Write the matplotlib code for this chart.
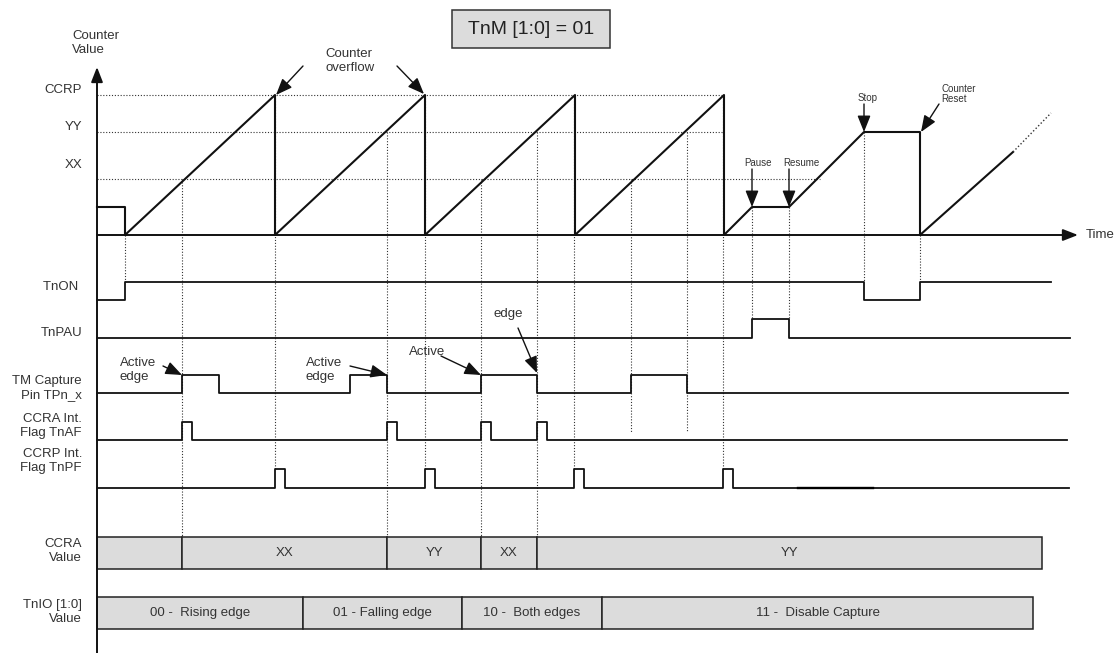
import numpy as np
import matplotlib.pyplot as plt
from matplotlib.patches import Rectangle

plt.rcParams['font.family'] = ['Liberation Sans', 'DejaVu Sans']

# ---- timing data (time units share the x axis) ----
t_start = 97
t_on = 125
t_overflow = [275, 425, 575, 724]
t_xx = [182, 481, 631]          # counter passes XX
t_yy = [387, 537, 687]          # counter passes YY
t_pause, t_resume = 752, 789
t_stop, t_reset = 864, 920

# counter levels (counts)
ccrp_val = 140
yy_val = 103
xx_val = 56
init_val = 28

cnt_t = [97, 125, 125, 275, 275, 425, 425, 575, 575, 724, 724, 752, 789, 864, 920, 920, 1013]
cnt_v = [28, 28, 0, 140, 0, 140, 0, 140, 0, 140, 0, 28, 28, 103, 103, 0, 83]
cnt_tail_t = [1013, 1051]
cnt_tail_v = [83, 122]

# digital signals: edge times
tnon_edges = [125, 864, 920]
tnpau_edges = [752, 789]
cap_edges = [182, 219, 350, 387, 481, 537, 631, 687]
taf_pulses = [182, 387, 481, 537]
tpf_pulses = [275, 425, 574, 723]

ccra_edges = [97, 182, 387, 481, 537, 1042]
ccra_labels = ['', 'XX', 'YY', 'XX', 'YY']
tnio_edges = [97, 303, 462, 602, 1033]
tnio_labels = ['00 -  Rising edge', '01 - Falling edge', '10 -  Both edges', '11 -  Disable Capture']

LC = '#111111'
TC = '#333333'
FS = 9.5

fig = plt.figure(figsize=(11.15, 6.53), dpi=100)
ax = fig.add_axes([0, 0, 1, 1])
ax.set_xlim(0, 1115)
ax.set_ylim(653, 0)
ax.axis('off')

base = 235
def cy(v):
    return base - np.asarray(v, dtype=float)

# level guide lines
dot = (0, (1, 1.6))
ax.plot([97, 724], [cy(ccrp_val)] * 2, color=TC, lw=0.8, ls=dot)
ax.plot([97, 724], [cy(yy_val)] * 2, color=TC, lw=0.8, ls=dot)
ax.plot([97, 820], [cy(xx_val)] * 2, color=TC, lw=0.8, ls=dot)

# vertical guides: (time, top, bottom)
rows = {'tnon': (300, 18), 'tnpau': (338, 19), 'cap': (393, 18), 'taf': (440, 18), 'tpf': (488, 19)}
guides = [(t_on, base, 282)]
guides += [(t, cy(xx_val), 537) for t in t_xx[:2]] + [(t_xx[2], cy(xx_val), 432)]
guides += [(t, cy(yy_val), 537) for t in t_yy[:2]] + [(t_yy[2], cy(yy_val), 432)]
guides += [(t, cy(ccrp_val), 469) for t in tpf_pulses]
guides += [(t_pause, cy(init_val), 319), (t_resume, cy(init_val), 319)]
guides += [(t_stop, cy(yy_val), 282), (t_reset, base, 282)]
for x, y0, y1 in guides:
    ax.plot([x, x], [y0, y1], color=TC, lw=0.8, ls=dot)

# counter waveform
ax.plot(cnt_t, cy(cnt_v), color=LC, lw=1.5)
ax.plot(cnt_tail_t, cy(cnt_tail_v), color=TC, lw=1.0, ls=dot)

# axes arrows
arrow = dict(arrowstyle='-|>,head_length=0.9,head_width=0.35', color=LC, lw=1.4, shrinkA=0, shrinkB=0)
ax.annotate('', xy=(97, 67), xytext=(97, 653), arrowprops=arrow)
ax.annotate('', xy=(1078, base), xytext=(97, base), arrowprops=arrow)
ax.text(1086, base, 'Time', fontsize=FS, color=TC, va='center', ha='left')

def wave(edges, t0, t1, start=0):
    xs, ys, lvl = [t0], [start], start
    for e in edges:
        xs += [e, e]
        ys += [lvl, 1 - lvl]
        lvl = 1 - lvl
    xs.append(t1)
    ys.append(lvl)
    return np.array(xs), np.array(ys)

def draw(row, edges, t1, start=0):
    y0, h = rows[row]
    xs, ys = wave(edges, t_start, t1, start)
    ax.plot(xs, y0 - h * ys, color=LC, lw=1.3)

draw('tnon', tnon_edges, 1051)
draw('tnpau', tnpau_edges, 1070)
draw('cap', cap_edges, 1068)
draw('taf', sorted(taf_pulses + [p + 10 for p in taf_pulses]), 1067)
draw('tpf', sorted(tpf_pulses + [p + 10 for p in tpf_pulses]), 1069)
ax.plot([798, 873], [488.4, 488.4], color='#000000', lw=1.7)

# value bars
def bars(edges, labels, yc):
    lefts = np.array(edges[:-1])
    widths = np.diff(edges)
    ax.barh(yc, widths, left=lefts, height=32, color='#dcdcdc', edgecolor='#222222', lw=1.1)
    for l, w, s in zip(lefts, widths, labels):
        ax.text(l + w / 2, yc, s, ha='center', va='center', fontsize=FS, color=TC)

bars(ccra_edges, ccra_labels, 553)
bars(tnio_edges, tnio_labels, 613)

# left labels
left = [('CCRP', 90), ('YY', 127), ('XX', 165), ('TnON ', 287), ('TnPAU', 333),
        ('TM Capture\nPin TPn_x', 388), ('CCRA Int.\nFlag TnAF', 426), ('CCRP Int.\nFlag TnPF', 461),
        ('CCRA\nValue', 551), ('TnIO [1:0]\nValue', 612)]
for s, y in left:
    ax.text(82, y, s, ha='right', va='center', fontsize=FS, color=TC, linespacing=1.15)
ax.text(72, 43, 'Counter\nValue', ha='left', va='center', fontsize=FS, color=TC, linespacing=1.15)

# title box
ax.add_patch(Rectangle((452, 10), 158, 38, fc='#dcdcdc', ec='#333333', lw=1.1))
ax.text(531, 29, 'TnM [1:0] = 01', ha='center', va='center', fontsize=14, color='#222222')

# annotations
def note(tail, tip):
    a = dict(arrow)
    a['lw'] = 1.0
    a['arrowstyle'] = '-|>,head_length=1.0,head_width=0.4'
    ax.annotate('', xy=tip, xytext=tail, arrowprops=a)

ax.text(325, 61, 'Counter\noverflow', ha='left', va='center', fontsize=FS, color=TC, linespacing=1.15)
note((303, 66), (276, 95))
note((397, 66), (424, 94))

ax.text(758, 163, 'Pause', ha='center', va='center', fontsize=7, color=TC)
note((t_pause, 169), (t_pause, 207))
ax.text(801, 163, 'Resume', ha='center', va='center', fontsize=7, color=TC)
note((t_resume, 169), (t_resume, 207))
ax.text(868, 98, 'Stop', ha='center', va='center', fontsize=7, color=TC)
note((t_stop, 104), (t_stop, 132))
ax.text(941, 94, 'Counter\nReset', ha='left', va='center', fontsize=7, color=TC, linespacing=1.0)
note((939, 104), (921, 132))

ax.text(120, 370, 'Active\nedge', ha='left', va='center', fontsize=FS, color=TC, linespacing=1.15)
note((163, 366), (182, 375))
ax.text(306, 370, 'Active\nedge', ha='left', va='center', fontsize=FS, color=TC, linespacing=1.15)
note((350, 366), (387, 375))
ax.text(409, 352, 'Active', ha='left', va='center', fontsize=FS, color=TC)
note((441, 356), (481, 375))
ax.text(493, 314, 'edge', ha='left', va='center', fontsize=FS, color=TC)
note((518, 328), (537, 373))

fig.savefig('out.png', dpi=100)
